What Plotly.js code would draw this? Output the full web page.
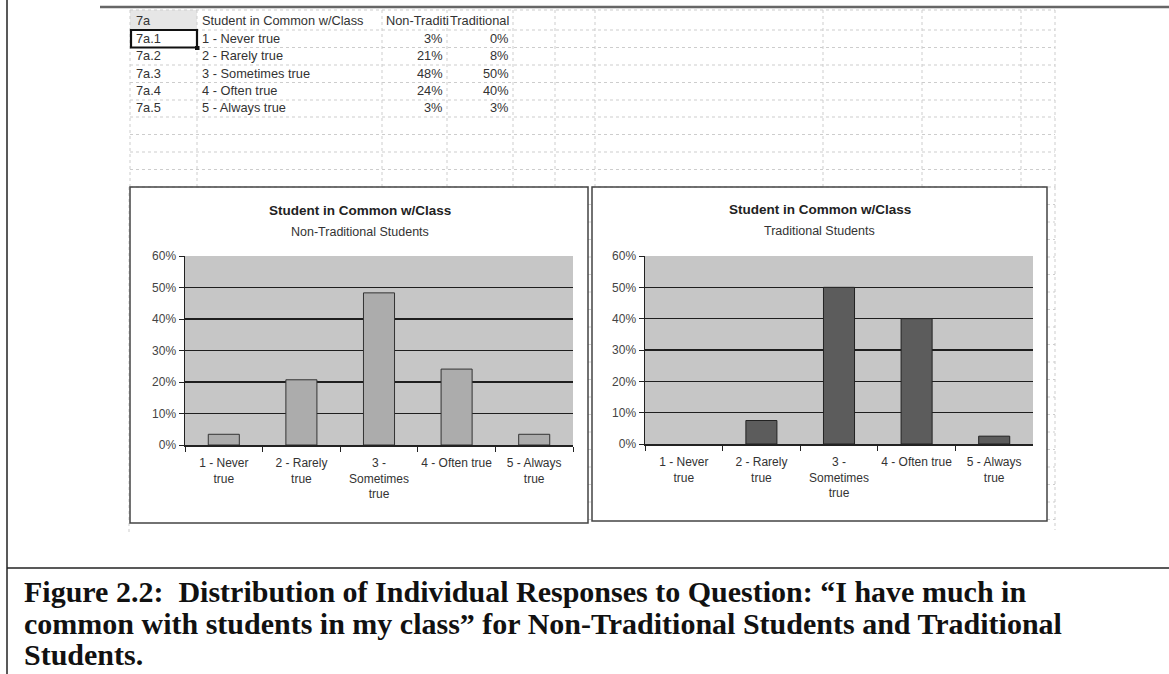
<!DOCTYPE html>
<html>
<head>
<meta charset="utf-8">
<script src="https://cdn.plot.ly/plotly-3.0.1.min.js"></script>
<style>
html,body{margin:0;padding:0;background:#fff;}
#chart{width:1169px;height:674px;}
</style>
</head>
<body>
<div id="chart"></div>
<script>
// ---- data ----
const itemCodes = ["7a.1", "7a.2", "7a.3", "7a.4", "7a.5"];
const responseLabels = ["1 - Never true", "2 - Rarely true", "3 - Sometimes true", "4 - Often true", "5 - Always true"];
const axisLabels = ["1 - Never<br>true", "2 - Rarely<br>true", "3 -<br>Sometimes<br>true", "4 - Often true", "5 - Always<br>true"];
const nonTraditional = [3.4, 20.7, 48.3, 24.1, 3.4];
const traditional = [0, 7.5, 50, 40, 2.5];
const tableHeader = ["7a", "Student in Common w/Class", "Non-Traditi", "Traditional"];
const chartTitle = "Student in Common w/Class";
const subtitles = ["Non-Traditional Students", "Traditional Students"];
const captionLines = [
  "Figure 2.2:\u00A0 Distribution of Individual Responses to Question: \u201CI have much in",
  "common with students in my class\u201D for Non-Traditional Students and Traditional",
  "Students."
];

// ---- geometry helpers (pixel -> paper) ----
const W = 1169, H = 674;
const px = x => x / W;
const py = y => 1 - y / H;

const shapes = [];
const annotations = [];
const sans = "Liberation Sans, Arial, sans-serif";

function line(x0, y0, x1, y1, color, width, dash) {
  shapes.push({type: "line", xref: "paper", yref: "paper", x0: px(x0), y0: py(y0), x1: px(x1), y1: py(y1),
    line: {color: color, width: width, dash: dash || "solid"}, layer: "above"});
}
function rect(x0, y0, x1, y1, color, width, fill, layer) {
  shapes.push({type: "rect", xref: "paper", yref: "paper", x0: px(x0), y0: py(y0), x1: px(x1), y1: py(y1),
    line: {color: color, width: width}, fillcolor: fill || "rgba(0,0,0,0)", layer: layer || "above"});
}
function text(t, x, y, anchor, size, color, bold, family) {
  annotations.push({text: bold ? "<b>" + t + "</b>" : t, xref: "paper", yref: "paper", x: px(x), y: py(y),
    xanchor: anchor, yanchor: "middle", showarrow: false,
    font: {family: family || sans, size: size, color: color || "#222"}});
}

// ---- spreadsheet area ----
line(100, 7, 1169, 7, "#666", 2.5);
const colX = [130, 197, 382, 447, 513, 555, 595, 823, 922, 1021, 1055];
const rowY = [10, 30, 47.5, 65, 82.5, 100, 117, 134.5, 152, 169.5, 187];
rect(130, 10, 197, 30, "rgba(0,0,0,0)", 0, "#e6e6e6", "below");
rowY.forEach(y => line(130, y, 1055, y, "#cdcdcd", 1, "dot"));
colX.forEach(x => line(x, 10, x, 187, "#cdcdcd", 1, "dot"));
for (let y = 204.5; y <= 530; y += 17.5) {
  line(588, y, 592, y, "#cdcdcd", 1, "dot");
  line(1047, y, 1055, y, "#cdcdcd", 1, "dot");
}
line(1055, 187, 1055, 530, "#cdcdcd", 1, "dot");
line(129, 187, 129, 532, "#cdcdcd", 1, "dot");

// table text
const tfs = 12.8, tcol = "#333";
const rowC = [20, 39, 56, 73, 91, 108];
text(tableHeader[0], 134, rowC[0], "left", tfs, tcol);
text(tableHeader[1], 200, rowC[0], "left", tfs, tcol);
text(tableHeader[2], 384, rowC[0], "left", tfs, tcol);
text(tableHeader[3], 448, rowC[0], "left", tfs, tcol);
for (let i = 0; i < itemCodes.length; i++) {
  text(itemCodes[i], 134, rowC[i + 1], "left", tfs, tcol);
  text(responseLabels[i], 200, rowC[i + 1], "left", tfs, tcol);
  text(Math.round(nonTraditional[i]) + "%", 445, rowC[i + 1], "right", tfs, tcol);
  text(Math.round(traditional[i]) + "%", 511, rowC[i + 1], "right", tfs, tcol);
}
// selected cell
rect(131, 30, 197, 47.5, "#111", 2.2);
rect(195, 46, 199.5, 50, "#111", 0, "#111");

// ---- chart boxes ----
rect(130, 187, 588, 523, "#444", 1.5);
rect(592, 187, 1047, 521, "#444", 1.5);

// chart titles
text(chartTitle, 360, 210, "center", 13.5, "#222", true);
text(subtitles[0], 360, 232, "center", 12.5, "#333");
text(chartTitle, 820, 209, "center", 13.5, "#222", true);
text(subtitles[1], 820, 231, "center", 12.5, "#333");

// ---- caption area ----
line(7, 0, 7, 674, "#222", 1.5);
line(7, 568, 1169, 568, "#222", 1.5);
const capY = [591, 623, 654];
captionLines.forEach((t, i) => text(t, 22, capY[i], "left", 30, "#111", true, "Liberation Serif, Times New Roman, serif"));

// ---- traces ----
const lw = vals => vals.map(v => v > 0 ? 1 : 0);
const traces = [
  {type: "bar", x: axisLabels, y: nonTraditional, xaxis: "x", yaxis: "y", width: 0.4,
   marker: {color: "#acacac", line: {color: "#333", width: lw(nonTraditional)}}, hoverinfo: "skip"},
  {type: "bar", x: axisLabels, y: traditional, xaxis: "x2", yaxis: "y2", width: 0.4,
   marker: {color: "#5c5c5c", line: {color: "#222", width: lw(traditional)}}, hoverinfo: "skip"}
];

function xax(d0, d1, anchor) {
  return {domain: [px(d0), px(d1)], anchor: anchor, type: "category", tickson: "boundaries",
    ticks: "outside", ticklen: 5, tickcolor: "#222", showline: true, linecolor: "#222", linewidth: 1.5,
    showgrid: false, tickfont: {family: sans, size: 12, color: "#333"}, fixedrange: true,
    ticklabelstandoff: 6,
    categoryorder: "array", categoryarray: axisLabels, tickangle: 0};
}
function yax(top, bottom, anchor) {
  return {domain: [py(bottom), py(top)], anchor: anchor, range: [0, 60], dtick: 10, ticksuffix: "%",
    ticks: "outside", ticklen: 5, tickcolor: "#222", showline: true, linecolor: "#222", linewidth: 1.5,
    showgrid: true, gridcolor: "#1e1e1e", gridwidth: 1.2, zeroline: false,
    tickfont: {family: sans, size: 12, color: "#444"}, fixedrange: true};
}

const layout = {
  width: W, height: H, margin: {l: 0, r: 0, t: 0, b: 0},
  paper_bgcolor: "#ffffff", plot_bgcolor: "#c6c6c6",
  showlegend: false, bargap: 0.6,
  xaxis: xax(185, 573, "y"),
  yaxis: yax(256, 445, "x"),
  xaxis2: xax(645, 1033, "y2"),
  yaxis2: yax(256, 444, "x2"),
  shapes: shapes,
  annotations: annotations
};

Plotly.newPlot("chart", traces, layout, {staticPlot: true, displayModeBar: false});
</script>
</body>
</html>
